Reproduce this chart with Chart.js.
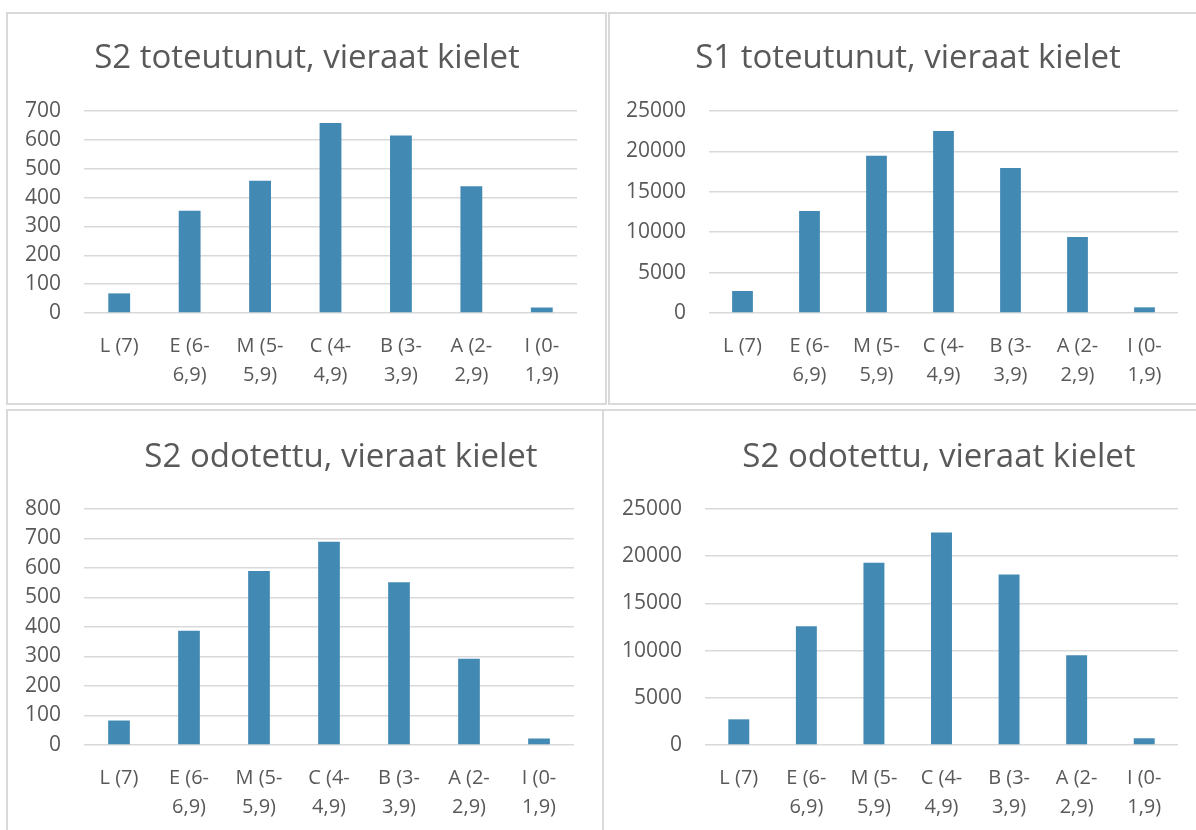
<!DOCTYPE html>
<html>
<head>
<meta charset="utf-8">
<script src="https://cdn.jsdelivr.net/npm/chart.js@4"></script>
<style>
  html, body { margin: 0; padding: 0; background: #fff; }
  body { width: 1196px; height: 830px; position: relative; overflow: hidden; }
  .frame { position: absolute; border: 2px solid #d9d9d9; box-sizing: border-box; }
  canvas { position: absolute; }
</style>
</head>
<body>
<div class="frame" style="left:6px;top:12px;width:601px;height:393px;"></div>
<div class="frame" style="left:608px;top:12px;width:620px;height:393px;"></div>
<div class="frame" style="left:6px;top:409px;width:598px;height:440px;"></div>
<div class="frame" style="left:602px;top:409px;width:620px;height:440px;"></div>

<canvas id="c1" width="597" height="389" style="left:8px;top:14px;"></canvas>
<canvas id="c2" width="586" height="389" style="left:610px;top:14px;"></canvas>
<canvas id="c3" width="594" height="419" style="left:8px;top:411px;"></canvas>
<canvas id="c4" width="592" height="419" style="left:604px;top:411px;"></canvas>

<script>
// categories (arvosanaluokat)
const categories = [
  ['L (7)'],
  ['E (6-', '6,9)'],
  ['M (5-', '5,9)'],
  ['C (4-', '4,9)'],
  ['B (3-', '3,9)'],
  ['A (2-', '2,9)'],
  ['I (0-', '1,9)']
];

// series values
const s2Toteutunut = [68, 354, 458, 658, 615, 439, 19];
const s1Toteutunut = [2720, 12620, 19470, 22520, 17950, 9410, 700];
const s2Odotettu = [83, 387, 590, 689, 552, 292, 22];
const s2OdotettuSuuri = [2720, 12590, 19310, 22520, 18070, 9510, 710];

const titles = [
  'S2 toteutunut, vieraat kielet',
  'S1 toteutunut, vieraat kielet',
  'S2 odotettu, vieraat kielet',
  'S2 odotettu, vieraat kielet'
];

const FONT = '"Open Sans", "Noto Sans", sans-serif';
const TEXT = '#595959';
const BAR = '#4289b4';

// Excel-style title that can sit off-centre (the chart title plugin always centres on the canvas)
const panelTitle = {
  id: 'panelTitle',
  afterDraw(chart, args, opts) {
    const ctx = chart.ctx;
    ctx.save();
    ctx.font = '33px ' + FONT;
    ctx.fillStyle = TEXT;
    ctx.textAlign = 'center';
    ctx.textBaseline = 'alphabetic';
    ctx.fillText(opts.text, opts.x, opts.y);
    ctx.restore();
  }
};

// box = canvas on the page, area = wanted plot area, head = title centre x / baseline y
function makeChart(id, title, values, yMax, yStep, box, area, head) {
  new Chart(document.getElementById(id), {
    type: 'bar',
    data: {
      labels: categories,
      datasets: [{
        data: values,
        backgroundColor: BAR,
        barPercentage: 0.31,
        categoryPercentage: 1
      }]
    },
    plugins: [panelTitle],
    options: {
      responsive: false,
      animation: false,
      layout: {
        padding: {
          left: 0,
          top: area.top - box.top,
          bottom: 0,
          right: Math.max(0, (box.left + box.width) - area.right)
        }
      },
      plugins: {
        legend: { display: false },
        tooltip: { enabled: false },
        title: { display: false },
        panelTitle: { text: title, x: head.x - box.left, y: head.y - box.top }
      },
      scales: {
        x: {
          grid: { display: false },
          border: { display: false },
          ticks: {
            color: TEXT,
            font: { family: FONT, size: 20, lineHeight: 1.45 },
            padding: 11,
            maxRotation: 0,
            autoSkip: false
          },
          afterFit: s => { s.height = (box.top + box.height) - area.bottom; }
        },
        y: {
          min: 0,
          max: yMax,
          border: { display: false },
          grid: { color: '#d9d9d9', lineWidth: 1.5, drawTicks: false },
          ticks: {
            stepSize: yStep,
            color: TEXT,
            font: { family: FONT, size: 21 },
            padding: 23,
            callback: v => String(v)
          },
          afterFit: s => { s.width = area.left - box.left; }
        }
      }
    }
  });
}

makeChart('c1', titles[0], s2Toteutunut, 700, 100,
  { left: 8, top: 14, width: 597, height: 389 },
  { left: 84, right: 577, top: 111, bottom: 313 },
  { x: 307, y: 68 });

makeChart('c2', titles[1], s1Toteutunut, 25000, 5000,
  { left: 610, top: 14, width: 586, height: 389 },
  { left: 709, right: 1178, top: 111, bottom: 313 },
  { x: 908, y: 68 });

makeChart('c3', titles[2], s2Odotettu, 800, 100,
  { left: 8, top: 411, width: 594, height: 419 },
  { left: 84, right: 574, top: 509, bottom: 745 },
  { x: 341, y: 467 });

makeChart('c4', titles[3], s2OdotettuSuuri, 25000, 5000,
  { left: 604, top: 411, width: 592, height: 419 },
  { left: 705, right: 1178, top: 509, bottom: 745 },
  { x: 939, y: 467 });
</script>
</body>
</html>
